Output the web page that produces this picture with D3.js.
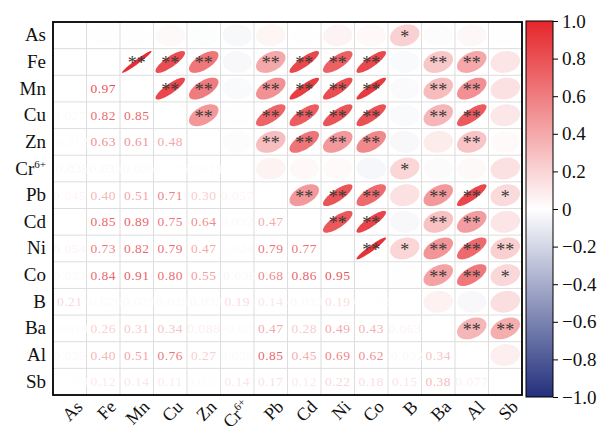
<!DOCTYPE html>
<html>
<head>
<meta charset="utf-8">
<script src="https://cdn.jsdelivr.net/npm/d3@7"></script>
<style>
  html, body { margin: 0; padding: 0; background: #fff; }
  svg { display: block; }
</style>
</head>
<body>
<svg id="chart" width="606" height="426"></svg>
<script>
// Variables in matrix order
const variables = ["As", "Fe", "Mn", "Cu", "Zn", "Cr6+", "Pb", "Cd", "Ni", "Co", "B", "Ba", "Al", "Sb"];

// Lower-triangle correlation coefficients, row by row (columns 0..i-1)
const corrLower = [
  [],
  [0.006],
  [0.004, 0.97],
  [0.027, 0.82, 0.85],
  [-0.012, 0.63, 0.61, 0.48],
  [-0.035, -0.033, -0.026, -0.005, -0.014],
  [0.045, 0.40, 0.51, 0.71, 0.30, 0.057],
  [0.003, 0.85, 0.89, 0.75, 0.64, 0.032, 0.47],
  [0.054, 0.73, 0.82, 0.79, 0.47, 0.024, 0.79, 0.77],
  [0.033, 0.84, 0.91, 0.80, 0.55, -0.039, 0.68, 0.86, 0.95],
  [0.21, -0.026, -0.023, -0.025, -0.033, 0.19, 0.14, -0.033, 0.19, -0.0065],
  [-0.014, 0.26, 0.31, 0.34, 0.088, -0.020, 0.47, 0.28, 0.49, 0.43, 0.063],
  [0.035, 0.40, 0.51, 0.76, 0.27, 0.028, 0.85, 0.45, 0.69, 0.62, -0.032, 0.34],
  [-0.004, 0.12, 0.14, 0.11, 0.022, 0.14, 0.17, 0.12, 0.22, 0.18, 0.15, 0.38, 0.077]
];

// Significance marks for the upper triangle: [row variable, column variable, mark]
const significance = [
  ["As", "B", "*"],
  ["Fe", "Mn", "**"], ["Fe", "Cu", "**"], ["Fe", "Zn", "**"], ["Fe", "Pb", "**"], ["Fe", "Cd", "**"],
  ["Fe", "Ni", "**"], ["Fe", "Co", "**"], ["Fe", "Ba", "**"], ["Fe", "Al", "**"],
  ["Mn", "Cu", "**"], ["Mn", "Zn", "**"], ["Mn", "Pb", "**"], ["Mn", "Cd", "**"], ["Mn", "Ni", "**"],
  ["Mn", "Co", "**"], ["Mn", "Ba", "**"], ["Mn", "Al", "**"],
  ["Cu", "Zn", "**"], ["Cu", "Pb", "**"], ["Cu", "Cd", "**"], ["Cu", "Ni", "**"], ["Cu", "Co", "**"],
  ["Cu", "Ba", "**"], ["Cu", "Al", "**"],
  ["Zn", "Pb", "**"], ["Zn", "Cd", "**"], ["Zn", "Ni", "**"], ["Zn", "Co", "**"], ["Zn", "Al", "**"],
  ["Cr6+", "B", "*"],
  ["Pb", "Cd", "**"], ["Pb", "Ni", "**"], ["Pb", "Co", "**"], ["Pb", "Ba", "**"], ["Pb", "Al", "**"], ["Pb", "Sb", "*"],
  ["Cd", "Ni", "**"], ["Cd", "Co", "**"], ["Cd", "Ba", "**"], ["Cd", "Al", "**"],
  ["Ni", "Co", "**"], ["Ni", "B", "*"], ["Ni", "Ba", "**"], ["Ni", "Al", "**"], ["Ni", "Sb", "**"],
  ["Co", "Ba", "**"], ["Co", "Al", "**"], ["Co", "Sb", "*"],
  ["Ba", "Al", "**"], ["Ba", "Sb", "**"]
];

// Colour bar ticks
const colorTicks = [1.0, 0.8, 0.6, 0.4, 0.2, 0, -0.2, -0.4, -0.6, -0.8, -1.0];

const svg = d3.select("#chart");
const serif = "'Liberation Serif', 'Times New Roman', serif";

const plot = { left: 53, top: 22, width: 469, height: 373 };
const x = d3.scaleBand().domain(variables).range([plot.left, plot.left + plot.width]);
const y = d3.scaleBand().domain(variables).range([plot.top, plot.top + plot.height]);
const color = d3.scaleLinear()
  .domain([-1, 0, 1])
  .range(["#22307c", "#ffffff", "#e5262b"])
  .interpolate(d3.interpolateRgb);

// full symmetric matrix
const n = variables.length;
const corr = d3.range(n).map(() => new Array(n).fill(1));
corrLower.forEach((row, i) => row.forEach((v, j) => { corr[i][j] = v; corr[j][i] = v; }));

const cells = [];
for (let i = 0; i < n; i++) for (let j = 0; j < n; j++) cells.push({ i, j, r: corr[i][j] });

// grid
const grid = svg.append("g");
variables.forEach((v, k) => {
  if (k === 0) return;
  grid.append("line").attr("x1", x(v)).attr("x2", x(v))
    .attr("y1", plot.top).attr("y2", plot.top + plot.height)
    .attr("stroke", "#dddddd").attr("stroke-width", 1);
  grid.append("line").attr("y1", y(v)).attr("y2", y(v))
    .attr("x1", plot.left).attr("x2", plot.left + plot.width)
    .attr("stroke", "#dddddd").attr("stroke-width", 1);
});

// ellipse outline for a correlation r
function ellipsePath(r, cx, cy, rx, ry) {
  const d = Math.acos(Math.max(-1, Math.min(1, r)));
  const pts = d3.range(0, 73).map(k => {
    const t = k / 72 * 2 * Math.PI;
    return [cx + rx * Math.cos(t + d / 2), cy - ry * Math.cos(t - d / 2)];
  });
  return d3.line()(pts) + "Z";
}

const bw = x.bandwidth(), bh = y.bandwidth();

// upper triangle: ellipses
svg.append("g").selectAll("path")
  .data(cells.filter(c => c.j > c.i))
  .join("path")
  .attr("d", c => ellipsePath(c.r, x(variables[c.j]) + bw / 2, y(variables[c.i]) + bh / 2, bw * 0.44, bh * 0.41))
  .attr("fill", c => color(c.r));

// significance marks
svg.append("g").selectAll("text")
  .data(significance)
  .join("text")
  .attr("x", d => x(d[1]) + bw / 2)
  .attr("y", d => y(d[0]) + bh / 2 + 7.5)
  .attr("text-anchor", "middle")
  .attr("font-family", serif)
  .attr("font-size", 18)
  .attr("fill", "#3a3a3a")
  .text(d => d[2]);

// lower triangle: coefficients
const fmt = v => Math.abs(v) >= 0.1 ? v.toFixed(2) : String(+v.toPrecision(2));
svg.append("g").selectAll("text")
  .data(cells.filter(c => c.j < c.i))
  .join("text")
  .attr("x", c => x(variables[c.j]) + bw / 2)
  .attr("y", c => y(variables[c.i]) + bh / 2 + 4.5)
  .attr("text-anchor", "middle")
  .attr("font-family", serif)
  .attr("font-size", 13.5)
  .attr("letter-spacing", 0.5)
  .attr("fill", c => color(c.r))
  .attr("fill-opacity", 0.85)
  .text(c => fmt(c.r));

// frame
svg.append("rect")
  .attr("x", plot.left).attr("y", plot.top)
  .attr("width", plot.width).attr("height", plot.height)
  .attr("fill", "none").attr("stroke", "#000").attr("stroke-width", 1.8);

// label with optional superscript for Cr6+
function writeLabel(sel, name) {
  if (name === "Cr6+") {
    sel.append("tspan").text("Cr");
    sel.append("tspan").attr("font-size", 11).attr("dy", -7).text("6+");
  } else {
    sel.text(name);
  }
}

// row labels
variables.forEach(v => {
  const t = svg.append("text")
    .attr("x", plot.left - 7)
    .attr("y", y(v) + bh / 2 + 6)
    .attr("text-anchor", "end")
    .attr("font-family", serif)
    .attr("font-size", 19)
    .attr("fill", "#111");
  writeLabel(t, v);
});

// column labels (rotated)
variables.forEach(v => {
  const cx = x(v) + bw / 2 + 5, cy = plot.top + plot.height + 4;
  const t = svg.append("text")
    .attr("transform", `translate(${cx},${cy}) rotate(-45)`)
    .attr("text-anchor", "end")
    .attr("dy", "0.7em")
    .attr("font-family", serif)
    .attr("font-size", 18)
    .attr("fill", "#111");
  writeLabel(t, v);
});

// colour bar
const bar = { x: 526, top: 21, bottom: 397, width: 27 };
const cy = d3.scaleLinear().domain([-1, 1]).range([bar.bottom, bar.top]);
const defs = svg.append("defs");
const grad = defs.append("linearGradient").attr("id", "cbar")
  .attr("x1", 0).attr("y1", 1).attr("x2", 0).attr("y2", 0);
d3.range(0, 21).forEach(k => {
  const v = -1 + k * 0.1;
  grad.append("stop").attr("offset", (k / 20)).attr("stop-color", color(v));
});
svg.append("rect")
  .attr("x", bar.x).attr("y", bar.top)
  .attr("width", bar.width).attr("height", bar.bottom - bar.top)
  .attr("fill", "url(#cbar)")
  .attr("stroke", "#000").attr("stroke-width", 1);

const axis = d3.axisRight(cy)
  .tickValues(colorTicks)
  .tickSize(5)
  .tickPadding(4)
  .tickFormat(v => v === 0 ? "0" : (v < 0 ? "\u2212" : "") + Math.abs(v).toFixed(1));
const ag = svg.append("g").attr("transform", `translate(${bar.x + bar.width},0)`).call(axis);
ag.select(".domain").remove();
ag.selectAll("text").attr("font-family", serif).attr("font-size", 19).attr("fill", "#111");
ag.selectAll("line").attr("stroke", "#000");
</script>
</body>
</html>
